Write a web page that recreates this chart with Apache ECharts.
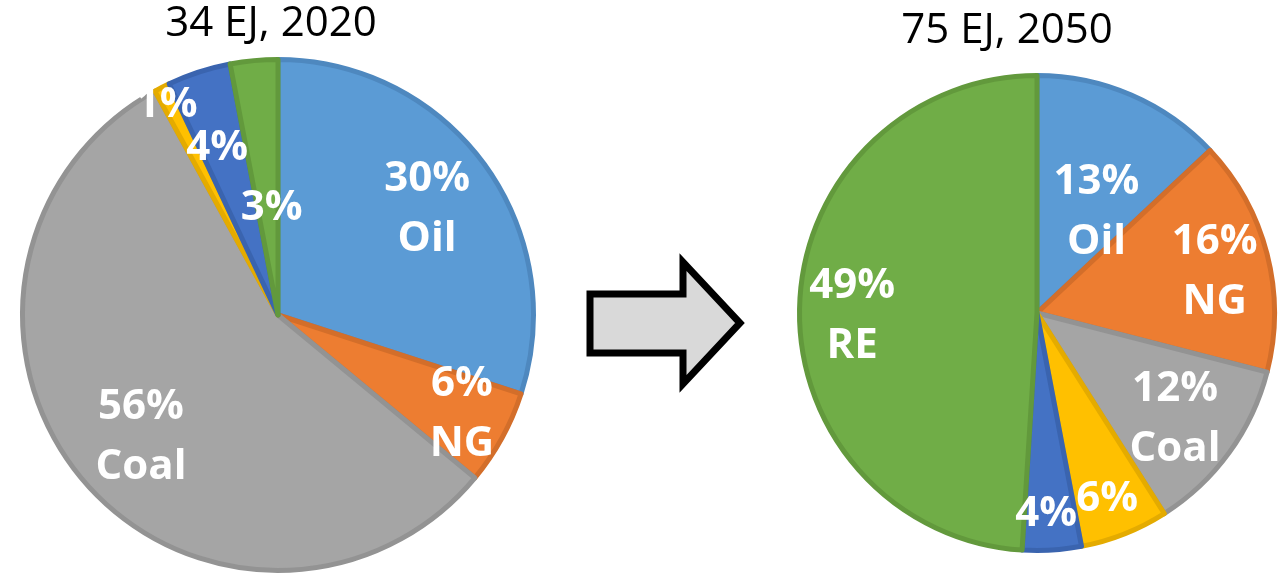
<!DOCTYPE html>
<html>
<head>
<meta charset="utf-8">
<script src="https://cdn.jsdelivr.net/npm/echarts@6/dist/echarts.min.js"></script>
<style>
  html, body { margin: 0; padding: 0; background: #fff; }
  #main { width: 1281px; height: 577px; }
</style>
</head>
<body>
<div id="main"></div>
<script>
// data
var sources = ['Oil', 'NG', 'Coal', 'Nuclear', 'Hydro', 'RE'];
var share2020 = [30, 6, 56, 1, 4, 3];
var share2050 = [13, 16, 12, 6, 4, 49];
var titles = ['34 EJ, 2020', '75 EJ, 2050'];
// which slices show the source name under the percentage
var named2020 = [true, true, true, false, false, false];
var named2050 = [true, true, true, false, false, true];

// styling
var fills = ['#5B9BD5', '#ED7D31', '#A5A5A5', '#FFC000', '#4472C4', '#70AD47'];
var edges = ['#4E88BF', '#D36E2A', '#939393', '#E4AB00', '#3A64AF', '#62993C'];
// label distance (fraction of radius) and angle nudge (deg) per slice
var lblR2020 = [0.71, 0.81, 0.71, 0.92, 0.69, 0.415];
var lblA2020 = [0.5, -0.5, -2, -1, -2, 2];
var lblR2050 = [0.49, 0.76, 0.725, 0.83, 0.84, 0.77];
var lblA2050 = [7, 1.4, 1.5, 1, 1, -2.7];

var pieL = { center: [278, 315], r: 258 };
var pieR = { center: [1037, 313], r: 240 };

function items(vals, named) {
  return vals.map(function (v, i) {
    return {
      name: sources[i],
      value: v,
      label: { formatter: named[i] ? '{c}%\n{b}' : '{c}%' },
      itemStyle: { color: fills[i], borderColor: edges[i] }
    };
  });
}

function layoutFor(vals, pie, fr, da, sIdx) {
  var total = vals.reduce(function (a, b) { return a + b; }, 0);
  return function (p) {
    if (p.seriesIndex !== sIdx) return;
    var before = 0;
    for (var i = 0; i < p.dataIndex; i++) before += vals[i];
    var ang = ((before + vals[p.dataIndex] / 2) / total * 360 + da[p.dataIndex]) * Math.PI / 180;
    var r = pie.r * fr[p.dataIndex];
    return {
      x: pie.center[0] + r * Math.sin(ang),
      y: pie.center[1] - r * Math.cos(ang),
      align: 'center',
      verticalAlign: 'middle'
    };
  };
}

function pieSeries(vals, named, pie, fr, da, sIdx) {
  return {
    type: 'pie',
    center: pie.center,
    radius: pie.r - 2.5,
    startAngle: 90,
    clockwise: true,
    animation: false,
    silent: true,
    avoidLabelOverlap: false,
    itemStyle: { borderWidth: 5 },
    label: {
      show: true,
      position: 'inside',
      color: '#fff',
      fontFamily: 'Open Sans',
      fontWeight: 'bold',
      fontSize: 42,
      lineHeight: 60
    },
    labelLine: { show: false },
    labelLayout: layoutFor(vals, pie, fr, da, sIdx),
    data: items(vals, named)
  };
}

var myChart = echarts.init(document.getElementById('main'));

var option = {
  backgroundColor: '#fff',
  title: [
    { text: titles[0], left: 271, top: 3, textAlign: 'center', padding: 0,
      textStyle: { fontFamily: 'Open Sans', fontWeight: 'normal', fontSize: 42, color: '#000' } },
    { text: titles[1], left: 1007, top: 10, textAlign: 'center', padding: 0,
      textStyle: { fontFamily: 'Open Sans', fontWeight: 'normal', fontSize: 42, color: '#000' } }
  ],
  graphic: [{
    type: 'polygon',
    shape: { points: [[590, 294], [683, 294], [683, 262], [740, 323], [683, 384], [683, 353], [590, 353]] },
    style: { fill: '#D9D9D9', stroke: '#000', lineWidth: 7, lineJoin: 'miter' },
    z: 10
  }],
  series: [
    pieSeries(share2020, named2020, pieL, lblR2020, lblA2020, 0),
    pieSeries(share2050, named2050, pieR, lblR2050, lblA2050, 1)
  ]
};

myChart.setOption(option);
</script>
</body>
</html>
